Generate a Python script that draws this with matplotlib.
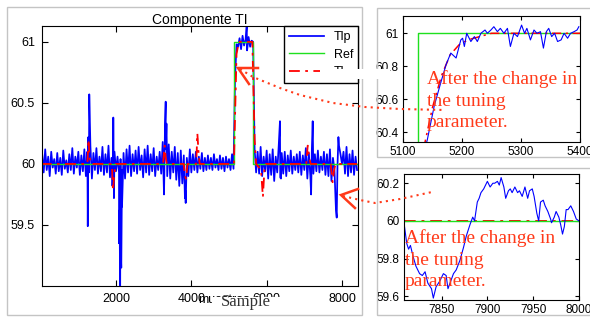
import numpy as np
import matplotlib
matplotlib.use("Agg")
import matplotlib.pyplot as plt
from matplotlib.lines import Line2D
from matplotlib.patches import Rectangle

plt.rcParams["font.family"] = ["Liberation Sans", "DejaVu Sans"]

W, H = 590, 320

# ---- main panel data (sample index vs. value) ----
noise_x = np.arange(40, 8401, 40)
noise_y = [
    60.08, 59.93, 60.12, 59.95, 60.06, 59.90, 60.10, 59.97, 60.04, 59.92,
    60.09, 59.94, 60.05, 59.91, 60.11, 59.96, 60.03, 59.93, 60.08, 59.95,
    60.13, 59.92, 60.06, 59.97, 60.10, 59.91, 60.07, 59.94, 60.12, 59.90,
    60.10, 59.93, 60.15, 59.88, 60.09, 59.95, 60.13, 59.92, 60.06, 59.94,
    60.14, 59.91, 60.08, 59.93, 60.15, 59.89, 60.05, 59.92, 60.10, 59.94,
    60.06, 59.93, 60.04, 59.95, 60.09, 59.88, 60.12, 59.93, 60.15, 59.90,
    60.08, 59.94, 60.11, 59.92, 60.14, 59.95, 60.07, 59.89, 60.12, 59.93,
    60.15, 59.91, 60.08, 59.94, 60.13, 59.90, 60.06, 59.95, 60.10, 59.92,
    60.18, 59.85, 60.12, 59.90, 60.16, 59.88, 60.10, 59.93, 60.14, 59.87,
    60.09, 59.82, 60.11, 59.84, 60.07, 59.78, 60.05, 59.90, 60.12, 59.93,
    60.08, 59.95, 60.10, 59.93, 60.06, 59.96, 60.09, 59.94, 60.05, 59.95,
    60.07, 59.96, 60.05, 59.95, 60.08, 59.97, 60.04, 59.95, 60.07, 59.96,
    60.05, 59.94, 60.06, 59.97, 60.04, 59.95, 60.08, 59.96, 60.70, 60.98,
    60.96, 61.03, 60.94, 61.05, 60.97, 61.02, 60.93, 61.04, 60.96, 61.01,
    61.00, 60.12, 59.93, 60.10, 59.92, 60.14, 59.90, 60.06, 59.94, 60.11,
    59.88, 60.08, 59.91, 60.12, 59.86, 60.06, 59.93, 60.15, 59.89, 60.09,
    59.92, 60.10, 59.90, 60.07, 59.94, 60.11, 59.92, 60.06, 59.95, 60.08,
    59.93, 60.10, 59.91, 60.07, 59.95, 60.13, 59.88, 60.09, 59.90, 60.12,
    59.92, 60.08, 59.94, 60.11, 59.93, 60.06, 59.95, 60.10, 59.91, 60.08,
    59.90, 60.12, 59.86, 60.05, 59.95, 59.62, 59.98, 60.15, 60.08, 60.00,
    60.10, 59.92, 60.14, 59.90, 60.08, 59.93, 60.11, 59.91, 60.06, 59.95,
]
# isolated spikes
spike_x = [1250, 1265, 1290, 1905, 1928, 1945, 2080, 2095, 2110, 2125, 2140,
           2160, 3274, 3300, 3319, 3340, 3830, 3850, 5470, 6353, 6380, 7180,
           7222, 7860, 7905]
spike_y = [59.49, 60.22, 60.57, 59.82, 60.38, 59.72, 59.35, 59.62, 58.90,
           59.30, 59.15, 59.65, 59.75, 60.30, 60.51, 60.33, 59.72, 59.68,
           61.13, 60.35, 59.88, 59.75, 60.35, 59.56, 60.22]

ref_x = [0, 5130, 5130, 5650, 5650, 8400]
ref_y = [60, 60, 61, 61, 60, 60]

model_x = [0, 1240, 1270, 1300, 1330, 1890, 1920, 1950, 1990, 3250, 3290,
           3320, 3350, 3800, 3830, 3860, 3900, 4130, 4160, 4190, 4220, 5130,
           5200, 5260, 5620, 5680, 5720, 5850, 5900, 5940, 5980, 7050, 7090,
           7130, 7170, 7700, 7750, 7790, 7830, 8400]
model_y = [60, 60, 60.2, 60.05, 60, 60, 59.78, 59.9, 60, 60, 60.15,
           60.05, 60, 60, 59.9, 59.88, 60, 60, 60.25, 60.1, 60, 60,
           60.9, 61, 61, 60.2, 60, 59.95, 59.73, 59.95, 60, 60, 60.15,
           60.05, 60, 60, 59.85, 59.95, 60, 60]

# ---- top zoom (5100-5400) ----
top_x = [5135, 5141, 5153, 5164, 5173, 5181, 5190, 5198, 5201, 5204, 5208,
         5215, 5221, 5226, 5232, 5239, 5243, 5249, 5254, 5260, 5265, 5271,
         5277, 5282, 5288, 5294, 5301, 5306, 5310, 5316, 5322, 5327, 5333,
         5338, 5343, 5347, 5352, 5357, 5362, 5368, 5373, 5379, 5384, 5390,
         5395, 5398]
top_y = [60.28, 60.35, 60.56, 60.70, 60.81, 60.88, 60.85, 60.96, 60.97,
         60.92, 61.00, 60.95, 60.98, 60.95, 61.00, 61.02, 61.00, 61.02,
         61.04, 61.01, 61.03, 61.00, 61.03, 60.92, 61.00, 60.98, 61.05,
         61.00, 61.03, 60.96, 61.02, 61.00, 61.01, 60.91, 61.01, 61.03,
         60.98, 61.00, 60.95, 60.96, 61.00, 60.97, 61.00, 61.01, 61.02,
         61.04]
top_model_x = [5135, 5150, 5165, 5180, 5195, 5210, 5230, 5250, 5400]
top_model_y = [60.30, 60.55, 60.74, 60.87, 60.93, 60.96, 60.98, 61.0, 61.0]
top_ref_x = [5125, 5125, 5400]
top_ref_y = [60.3, 61, 61]

# ---- bottom zoom (7810-8000) ----
bot_x = [7809, 7812, 7814, 7816, 7819, 7822, 7826, 7829, 7832, 7835,
         7839, 7841, 7844, 7848, 7852, 7855, 7857, 7860, 7863, 7866,
         7870, 7874, 7877, 7881, 7884, 7886, 7889, 7891, 7893, 7896,
         7898, 7900, 7903, 7906, 7908, 7911, 7913, 7915, 7918, 7920,
         7923, 7925, 7927, 7930, 7933, 7935, 7938, 7941, 7944, 7946,
         7949, 7951, 7954, 7956, 7958, 7961, 7963, 7966, 7969, 7970,
         7973, 7975, 7978, 7980, 7982, 7984, 7986, 7988, 7991, 7994,
         7997, 8000]
bot_y = [59.99, 59.88, 59.85, 59.87, 59.81, 59.76, 59.72, 59.71, 59.73, 59.67,
         59.64, 59.59, 59.65, 59.68, 59.72, 59.71, 59.64, 59.68, 59.72, 59.74,
         59.79, 59.86, 59.92, 59.98, 60.02, 60.00, 60.10, 60.12, 60.15, 60.17,
         60.19, 60.21, 60.18, 60.20, 60.20, 60.21, 60.19, 60.23, 60.18, 60.12,
         60.16, 60.17, 60.15, 60.18, 60.15, 60.16, 60.13, 60.18, 60.12, 60.16,
         60.17, 60.13, 60.04, 60.00, 60.10, 60.11, 60.08, 60.05, 60.01, 59.99,
         60.02, 60.05, 60.02, 59.98, 59.93, 59.97, 60.06, 60.06, 60.08, 60.05,
         60.01, 60.00]
bot_ref_x = [7809, 8000]
bot_ref_y = [60, 60]

NOTE = "After the change in\nthe tuning\nparameter."
RED = "#ff3a1a"
BLUE = "#0000ff"
GREEN = "#1ee01e"
DASHDOT = (0, (6, 3, 1.5, 3))


def fx(px):
    return px / W


def fy(py):
    return 1 - py / H


def add_axes_px(fig, l, t, r, b):
    return fig.add_axes([l / W, 1 - b / H, (r - l) / W, (b - t) / H])


def matlab_ticks(ax, size, length, pad):
    ax.tick_params(direction="in", top=True, right=True, labelsize=size,
                   length=length, width=0.8, pad=pad)
    for s in ax.spines.values():
        s.set_linewidth(0.8)


fig = plt.figure(figsize=(W / 100, H / 100), dpi=100)

# gray frames around the three pictures
for l, t, r, b in [(7, 7, 362, 315), (377, 8, 600, 157), (377, 168, 600, 315)]:
    fig.add_artist(Rectangle((fx(l), fy(b)), (r - l) / W, (b - t) / H,
                             transform=fig.transFigure, fill=False,
                             edgecolor="#c4c4c4", linewidth=1.0, zorder=1))

# ---- main panel ----
ax = add_axes_px(fig, 42, 26, 358, 286)
order = np.argsort(np.concatenate([noise_x, spike_x]), kind="stable")
all_x = np.concatenate([noise_x, spike_x])[order]
all_y = np.concatenate([noise_y, spike_y])[order]
ax.plot(all_x, all_y, color=BLUE, lw=1.25, label="Tlp")
ax.plot(ref_x, ref_y, color=GREEN, lw=1.0, label="Ref")
ax.plot(model_x, model_y, color="red", lw=1.3, ls=DASHDOT, label="Tl")
ax.set_xlim(35, 8425)
ax.set_ylim(59.0, 61.13)
ax.set_xticks([2000, 4000, 6000, 8000])
ax.set_yticks([59.5, 60, 60.5, 61])
ax.set_yticklabels(["59.5", "60", "60.5", "61"])
matlab_ticks(ax, 9, 4, 5)
ax.set_title("Componente TI", fontsize=10, pad=1.5)
ax.legend(loc="upper right", borderaxespad=0, fancybox=False,
          edgecolor="black", framealpha=1, fontsize=9, handlelength=2.8,
          handletextpad=0.8, borderpad=0.4, labelspacing=0.45)

fig.text(fx(198), fy(303), "muestras", fontsize=9, va="baseline")
fig.add_artist(Rectangle((fx(212), fy(313)), 78 / W, 16 / H,
                         transform=fig.transFigure, facecolor="white",
                         edgecolor="none", zorder=5))
fig.text(fx(221), fy(306), "Sample", fontsize=12, va="baseline",
         family=["Liberation Serif", "DejaVu Serif"], color="#333333", zorder=6)

# ---- top zoom ----
ax1 = add_axes_px(fig, 403, 16, 580, 142)
ax1.plot(top_ref_x, top_ref_y, color=GREEN, lw=1.0)
ax1.plot(top_model_x, top_model_y, color="red", lw=1.1, ls=DASHDOT)
ax1.plot(top_x, top_y, color=BLUE, lw=0.8)
ax1.set_xlim(5100, 5400)
ax1.set_ylim(60.34, 61.105)
ax1.set_xticks([5100, 5200, 5300, 5400])
ax1.set_yticks([60.4, 60.6, 60.8, 61])
ax1.set_yticklabels(["60.4", "60.6", "60.8", "61"])
matlab_ticks(ax1, 8.5, 3, 3)

# ---- bottom zoom ----
ax2 = add_axes_px(fig, 404, 174, 579, 300)
ax2.plot(bot_ref_x, bot_ref_y, color="red", lw=1.4, ls=DASHDOT)
ax2.plot(bot_ref_x, bot_ref_y, color=GREEN, lw=1.0)
ax2.plot(bot_x, bot_y, color=BLUE, lw=0.8)
ax2.set_xlim(7809, 8000)
ax2.set_ylim(59.58, 60.249)
ax2.set_xticks([7850, 7900, 7950, 8000])
ax2.set_yticks([59.6, 59.8, 60, 60.2])
ax2.set_yticklabels(["59.6", "59.8", "60", "60.2"])
matlab_ticks(ax2, 8.5, 3, 3)

# white patch pasted over the legend corner
fig.add_artist(Rectangle((fx(320), fy(79)), 70 / W, 10 / H,
                         transform=fig.transFigure, facecolor="white",
                         edgecolor="none", zorder=5))

# ---- red arrows and dotted leaders ----
def fig_line(xs, ys, **kw):
    fig.add_artist(Line2D([fx(v) for v in xs], [fy(v) for v in ys],
                          transform=fig.transFigure, color=RED, zorder=10, **kw))


fig_line([258, 238, 249], [68, 68, 84], lw=1.8, solid_joinstyle="miter")
fig_line([240, 253, 280, 300, 333, 365, 400, 445],
         [69, 77, 88, 95, 103, 107, 109, 110], lw=1.5, ls=(0, (1, 2)))
fig_line([358, 341, 355], [189, 195, 208], lw=1.8, solid_joinstyle="miter")
fig_line([343, 360, 375, 400, 432], [196, 200, 203, 199, 192],
         lw=1.5, ls=(0, (1, 2)))

serif = ["Liberation Serif", "DejaVu Serif"]
fig.text(fx(427), fy(70), NOTE, fontsize=14, family=serif, color=RED,
         va="top", linespacing=1.37, zorder=11)
fig.text(fx(405), fy(229), NOTE, fontsize=14, family=serif, color=RED,
         va="top", linespacing=1.37, zorder=11)

fig.savefig("out.png", dpi=100)
